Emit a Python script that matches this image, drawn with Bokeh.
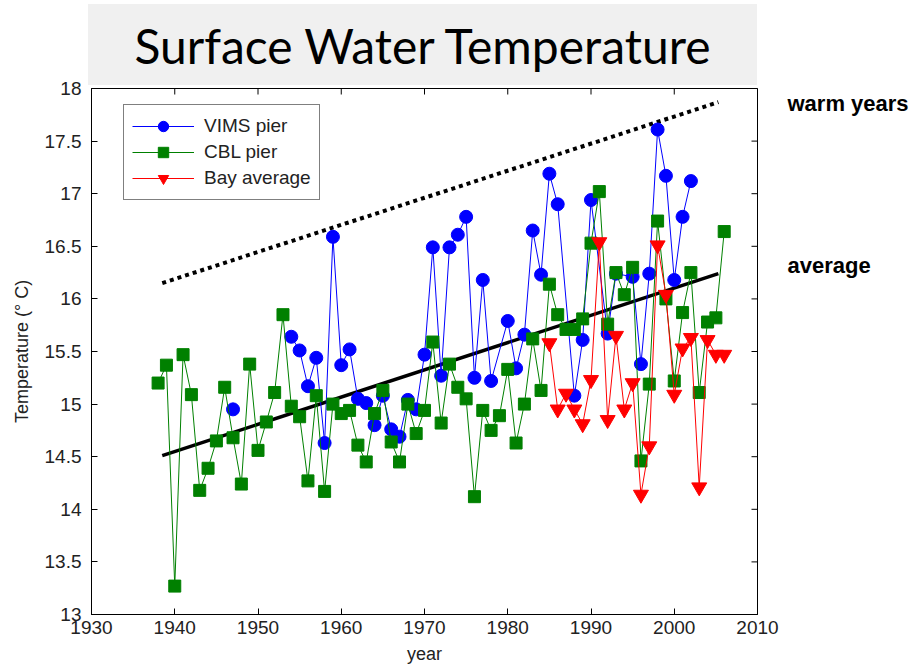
import numpy as np
from bokeh.plotting import figure
from bokeh.layouts import column
from bokeh.models import (Legend, LegendItem, LinearAxis, FixedTicker, Div)
from bokeh.embed import file_html
from bokeh.resources import INLINE

# ---------------- data ----------------
title_text = "Surface Water Temperature"
x_label = "year"
y_label = "Temperature (\u00b0 C)"
x_ticks = [1930, 1940, 1950, 1960, 1970, 1980, 1990, 2000, 2010]
y_ticks = [13, 13.5, 14, 14.5, 15, 15.5, 16, 16.5, 17, 17.5, 18]
y_tick_labels = ["13", "13.5", "14", "14.5", "15", "15.5", "16", "16.5", "17", "17.5", "18"]

nan = float("nan")
vims_years = [1947, 1948,
              1954, 1955, 1956, 1957, 1958, 1959, 1960, 1961, 1962, 1963, 1964,
              1965, 1966, 1967, 1968, 1969, 1970, 1971, 1972, 1973, 1974, 1975,
              1976, 1977, 1978,
              1980, 1981, 1982, 1983, 1984, 1985, 1986,
              1988, 1989, 1990,
              1992, 1993,
              1995, 1996, 1997, 1998, 1999, 2000, 2001, 2002]
vims_temp = [14.95, nan,
             15.64, 15.51, 15.17, 15.44, 14.63, 16.59, 15.37, 15.52, 15.05, 15.01, 14.80,
             15.08, 14.76, 14.69, 15.04, 14.95, 15.47, 16.49, 15.27, 16.49, 16.61, 16.78,
             15.25, 16.18, 15.22,
             15.79, 15.34, 15.66, 16.65, 16.23, 17.19, 16.90,
             15.08, 15.61, 16.94,
             15.67, 16.24,
             16.21, 15.38, 16.24, 17.61, 17.17, 16.18, 16.78, 17.12]

cbl_years = list(range(1938, 2007))
cbl_temp = [15.20, 15.37, 13.27, 15.47, 15.09, 14.18, 14.39, 14.65, 15.16, 14.68,
            14.24, 15.38, 14.56, 14.83, 15.11, 15.85, 14.98, 14.88, 14.27, 15.08,
            14.17, 15.00, 14.91, 14.94, 14.61, 14.45, 14.91, 15.13, 14.64, 14.45,
            15.00, 14.72, 14.94, 15.59, 14.82, 15.38, 15.16, 15.05, 14.12, 14.94,
            14.75, 14.89, 15.33, 14.63, 15.00, 15.62, 15.13, 16.14, 15.85, 15.71,
            15.71, 15.81, 16.53, 17.02, 15.76, 16.25, 16.04, 16.30, 14.46, 15.19,
            16.74, 16.00, 15.22, 15.87, 16.25, 15.11, 15.78, 15.82, 16.64]

bay_years = list(range(1985, 2007))
bay_temp = [15.58, 14.95, 15.10, 14.95, 14.81, 15.23, 16.54, 14.85, 15.65, 14.95,
            15.20, 14.14, 14.60, 16.51, 16.04, 15.09, 15.53, 15.63, 14.21, 15.61,
            15.47, 15.47]

trend_years = [1938.5, 2005.3]
avg_trend = [14.51, 16.24]
warm_trend = [16.15, 17.87]

series_names = ["VIMS pier", "CBL pier", "Bay average"]
note_texts = ["warm years", "average"]
note_levels = [17.86, 16.32]

# ---------------- title box ----------------
title_div = Div(text=title_text, width=669, height=81, margin=(4, 0, -11, 88),
                styles={"background-color": "#f0f0f0", "text-align": "center",
                        "font-family": "Lato", "font-size": "48px",
                        "line-height": "84px", "color": "black",
                        "white-space": "nowrap"})

# ---------------- figure ----------------
p = figure(width=920, height=592, x_range=(1930, 2010), y_range=(13, 18),
           output_backend="svg", toolbar_location=None,
           min_border_left=91, min_border_right=163, min_border_top=14,
           min_border_bottom=51, margin=0)
p.background_fill_color = "white"
p.border_fill_alpha = 0.0
p.outline_line_color = "black"
p.outline_line_width = 1
p.xgrid.visible = False
p.ygrid.visible = False

tick_font = "Liberation Sans Narrow, Liberation Sans"
for ax in [p.xaxis[0], p.yaxis[0]]:
    ax.axis_line_color = "black"
    ax.major_tick_in = 6
    ax.major_tick_out = 0
    ax.minor_tick_line_color = None
    ax.major_tick_line_color = "black"
    ax.major_label_text_font = tick_font
    ax.major_label_text_font_size = "19px"
    ax.major_label_text_color = "#222222"
    ax.axis_label_text_font = "Liberation Sans"
    ax.axis_label_text_font_style = "normal"
    ax.axis_label_text_color = "#222222"
p.xaxis[0].ticker = FixedTicker(ticks=x_ticks)
p.yaxis[0].ticker = FixedTicker(ticks=y_ticks)
p.yaxis[0].major_label_overrides = {t: s for t, s in zip(y_ticks, y_tick_labels)}
p.xaxis[0].major_label_standoff = 6
p.yaxis[0].major_label_standoff = 10
p.xaxis[0].axis_label = x_label
p.xaxis[0].axis_label_text_font_size = "18px"
p.xaxis[0].axis_label_standoff = 7
p.yaxis[0].axis_label = y_label
p.yaxis[0].axis_label_text_font_size = "18px"
p.yaxis[0].axis_label_standoff = 10

# right-hand notes as a label-only axis
note_axis = LinearAxis(ticker=FixedTicker(ticks=note_levels),
                       major_label_overrides={v: t for v, t in zip(note_levels, note_texts)},
                       major_tick_in=0, major_tick_out=0, minor_tick_line_color=None,
                       axis_line_color=None, major_tick_line_color=None,
                       major_label_standoff=30, major_label_text_font="Liberation Sans",
                       major_label_text_font_size="22px", major_label_text_font_style="bold",
                       major_label_text_color="black")
p.add_layout(note_axis, "right")

# inward ticks on top and right edges of the box
p.scatter([2010] * len(y_ticks), y_ticks, marker="dash", size=12,
          line_color="black", line_width=1)
p.scatter(x_ticks, [18] * len(x_ticks), marker="dash", angle=np.pi / 2, size=12,
          line_color="black", line_width=1)

# trend lines
p.line(trend_years, warm_trend, line_color="black", line_width=4,
       line_dash="4 4", line_cap="butt")
p.line(trend_years, avg_trend, line_color="black", line_width=3.5)

# series
l1 = p.line(vims_years, vims_temp, line_color="#0000ff", line_width=1)
s1 = p.scatter(vims_years, vims_temp, marker="circle", size=13,
               fill_color="#0000ff", line_color="#0000ff")
l2 = p.line(cbl_years, cbl_temp, line_color="#008000", line_width=1)
s2 = p.scatter(cbl_years, cbl_temp, marker="square", size=12,
               fill_color="#008000", line_color="#008000")
l3 = p.line(bay_years, bay_temp, line_color="#ff0000", line_width=1)
s3 = p.scatter(bay_years, bay_temp, marker="inverted_triangle", size=15,
               fill_color="#ff0000", line_color="#ff0000")

legend = Legend(items=[LegendItem(label=series_names[0], renderers=[l1, s1]),
                       LegendItem(label=series_names[1], renderers=[l2, s2]),
                       LegendItem(label=series_names[2], renderers=[l3, s3])],
                location=(32, 414), margin=0, padding=8, spacing=0,
                glyph_width=62, glyph_height=26, label_height=26,
                label_standoff=10, label_text_font="Liberation Sans",
                label_text_font_size="19px", label_text_color="#222222",
                border_line_color="black", border_line_width=1,
                background_fill_color="white", background_fill_alpha=1.0)
p.add_layout(legend)

layout = column(title_div, p, spacing=0)
open("out.html", "w").write(file_html(layout, INLINE))
